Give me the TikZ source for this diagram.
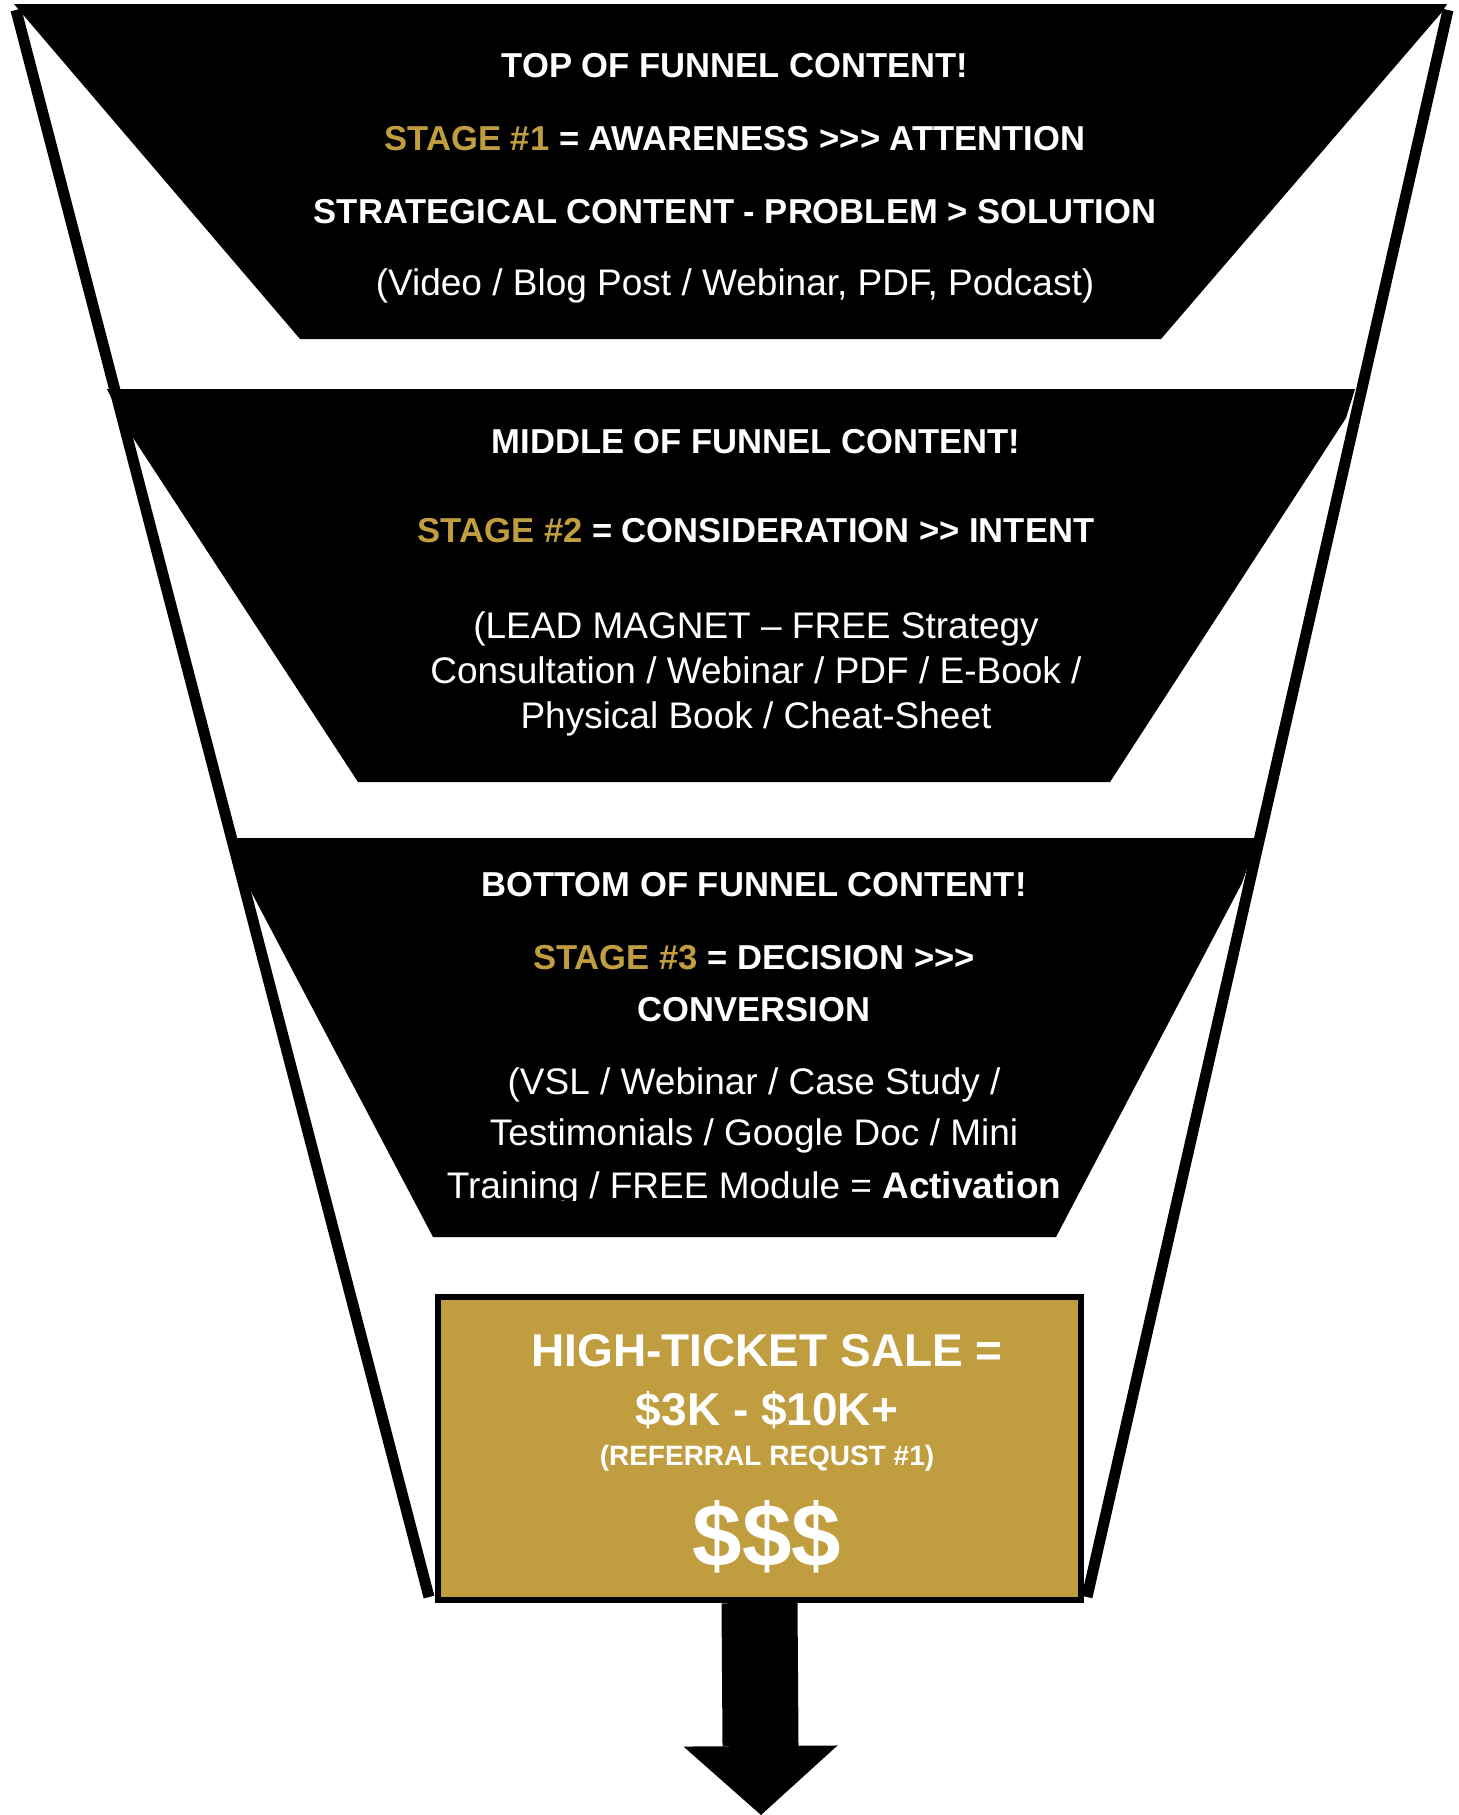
\documentclass[tikz,border=0pt]{standalone}
\usepackage{fontspec}
\setmainfont{Liberation Sans}
\usepackage{xcolor}
\usetikzlibrary{arrows.meta}
\definecolor{funnelGold}{RGB}{192, 158, 64}

\begin{document}
\begin{tikzpicture}[x=0.5pt, y=-0.5pt,
  heading/.style={text=white, anchor=base, inner sep=0pt, font=\fontsize{17.3}{20}\selectfont\bfseries},
  body/.style={text=white, anchor=base, inner sep=0pt, font=\fontsize{18.5}{21}\selectfont},
  saletext/.style={text=white, anchor=base, inner sep=0pt, font=\bfseries},
  wall/.style={line width=5.5pt}]
\useasboundingbox (0,0) rectangle (1459,1815);

% Funnel bands
\fill (14,4) -- (1447,4) -- (1442,12) -- (1161,339) -- (300,339) -- (19,10) -- cycle;
\fill (107,389) -- (1355,389) -- (1346,418) -- (1110,782) -- (358,782) -- (126,427) -- cycle;
\fill (237,838) -- (1258,838) -- (1242,883) -- (1056,1237) -- (433,1237) -- (246,882) -- cycle;

% Funnel walls
\draw[wall] (16,10) -- (429,1597);
\draw[wall] (1448,10) -- (1087,1597);

% Top of funnel
\node[heading] (topTitle) at (735,77) {TOP OF FUNNEL CONTENT!};
\node[heading] (topStage) at (735,150) {\textcolor{funnelGold}{STAGE \#1} = AWARENESS >{}>{}> ATTENTION};
\node[heading] (topPlan) at (735,223) {STRATEGICAL CONTENT - PROBLEM > SOLUTION};
\node[body] (topFormats) at (735,295) {(Video / Blog Post / Webinar, PDF, Podcast)};

% Middle of funnel
\node[heading] (midTitle) at (756,453) {MIDDLE OF FUNNEL CONTENT!};
\node[heading] (midStage) at (756,542) {\textcolor{funnelGold}{STAGE \#2} = CONSIDERATION >{}> INTENT};
\foreach \txt [count=\i] in {{(LEAD MAGNET – FREE Strategy}, {Consultation / Webinar / PDF / E-Book /}, {Physical Book / Cheat-Sheet}}
    \node[body] (midFormats\i) at (756,{638+45*(\i-1)}) {\txt};

% Bottom of funnel
\node[heading] (botTitle) at (754,896) {BOTTOM OF FUNNEL CONTENT!};
\node[heading] (botStage) at (754,969) {\textcolor{funnelGold}{STAGE \#3} = DECISION >{}>{}>};
\node[heading] (botGoal) at (754,1021) {CONVERSION};
\node[body] (botFormats1) at (754,1094) {(VSL / Webinar / Case Study /};
\node[body] (botFormats2) at (754,1145) {Testimonials / Google Doc / Mini};
\begin{scope}
    \clip (0,0) rectangle (1459,1200);
    \node[body] (botFormats3) at (754,1198) {Training / FREE Module = \textbf{Activation}};
\end{scope}

% Sale box and exit arrow
\node[draw, line width=3pt, fill=funnelGold, minimum width=321.5pt, minimum height=151.5pt, inner sep=0pt] (saleBox) at (759.5,1448.5) {};
\node[saletext, font=\fontsize{23}{26}\selectfont\bfseries] (saleTitle) at (767,1366) {HIGH-TICKET SALE =};
\node[saletext, font=\fontsize{23}{26}\selectfont\bfseries] (salePrice) at (767,1425) {\$3K - \$10K+};
\node[saletext, font=\fontsize{14}{16}\selectfont\bfseries] (saleNote) at (767,1465) {(REFERRAL REQUST \#1)};
\node[saletext, font=\fontsize{44.5}{50}\selectfont\bfseries] (saleCash) at (767,1566) {\$\$\$};
\coordinate (arrowTip) at (761,1815);
\draw[line width=38pt, -{Triangle[width=77pt, length=34.5pt, line width=0pt]}] (saleBox.south) -- (arrowTip);
\end{tikzpicture}
\end{document}
